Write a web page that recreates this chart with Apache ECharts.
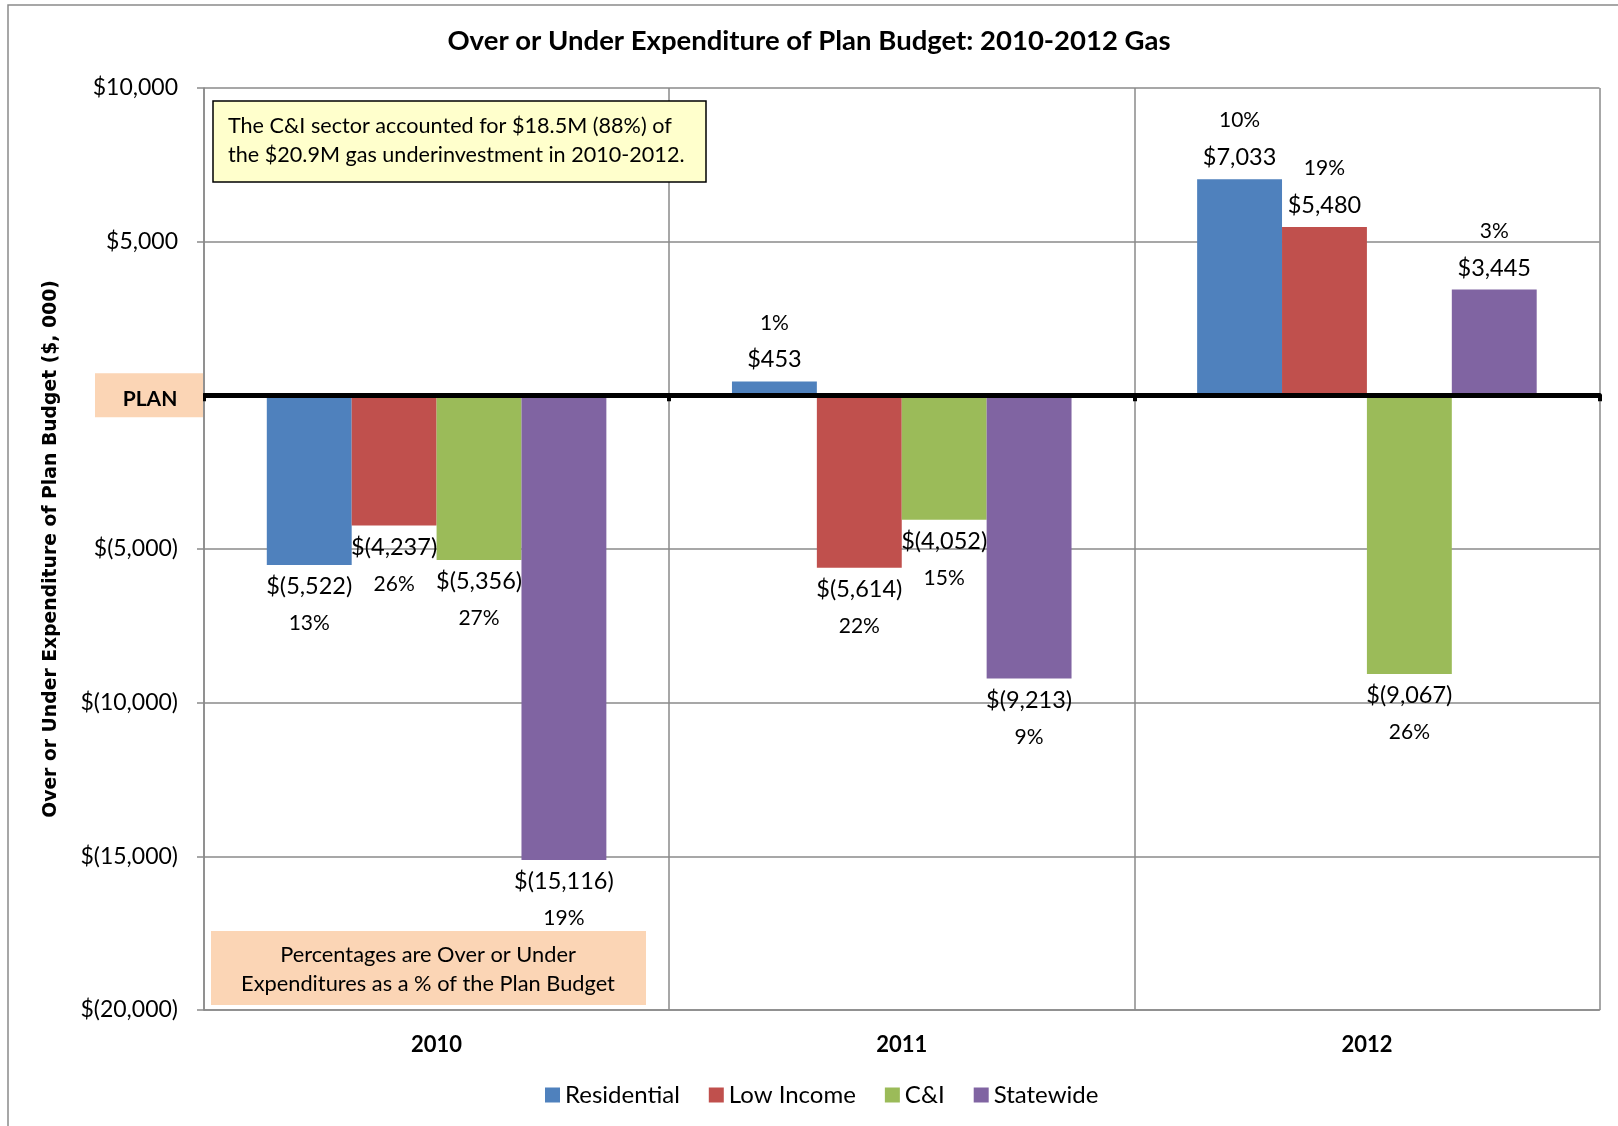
<!DOCTYPE html>
<html><head><meta charset="utf-8">
<script src="https://cdn.jsdelivr.net/npm/echarts@6/dist/echarts.min.js"></script>
<style>html,body{margin:0;padding:0;background:#fff}#c{width:1618px;height:1126px}</style>
</head><body><div id="c"></div>
<script>
// ---- data ----
const years = ['2010', '2011', '2012'];
const seriesNames = ['Residential', 'Low Income', 'C&I', 'Statewide'];
const residential = [-5522, 453, 7033];
const lowIncome = [-4237, -5614, 5480];
const cAndI = [-5356, -4052, -9067];
const statewide = [-15116, -9213, 3445];
const residentialPct = ['13%', '1%', '10%'];
const lowIncomePct = ['26%', '22%', '19%'];
const cAndIPct = ['27%', '15%', '26%'];
const statewidePct = ['19%', '9%', '3%'];
const yMin = -20000, yMax = 10000, yStep = 5000;

const colors = ['#4F81BD', '#C0504D', '#9BBB59', '#8064A2'];
const FONT = 'Lato';

function money(v) {
  const s = Math.abs(v).toLocaleString('en-US');
  return v < 0 ? '$(' + s + ')' : '$' + s;
}

const values = [residential, lowIncome, cAndI, statewide];
const pcts = [residentialPct, lowIncomePct, cAndIPct, statewidePct];

const series = seriesNames.map((name, i) => ({
  name: name,
  type: 'bar',
  xAxisIndex: 0,
  barGap: '0%',
  barCategoryGap: '27%',
  itemStyle: { color: colors[i] },
  data: values[i].map(v => ({ value: v, label: { position: v < 0 ? 'bottom' : 'top' } })),
  label: {
    show: true,
    distance: 3,
    fontFamily: FONT,
    color: '#000',
    formatter: p => {
      const pc = pcts[i][p.dataIndex];
      return p.value < 0 ? '{v|' + money(p.value) + '}\n{p|' + pc + '}' : '{p|' + pc + '}\n{v|' + money(p.value) + '}';
    },
    rich: {
      v: { fontFamily: FONT, fontSize: 23.5, lineHeight: 37, color: '#000' },
      p: { fontFamily: FONT, fontSize: 21, lineHeight: 37, color: '#000' }
    }
  }
}));

const chart = echarts.init(document.getElementById('c'), null, { renderer: 'canvas' });
const option = {
  animation: false,
  backgroundColor: '#fff',
  title: {
    text: 'Over or Under Expenditure of Plan Budget: 2010-2012 Gas',
    left: 'center', top: 22, padding: [5, 5, 5, 29],
    textStyle: { fontFamily: FONT, fontWeight: 'bold', fontSize: 27.5, color: '#000' }
  },
  legend: {
    data: seriesNames,
    left: 540, top: 1078,
    itemWidth: 15, itemHeight: 15, itemGap: 29,
    icon: 'rect',
    textStyle: { fontFamily: FONT, fontSize: 24, color: '#000' }
  },
  grid: { left: 204, right: 18.5, top: 88, bottom: 116, containLabel: false, outerBoundsMode: 'none' },
  xAxis: [{
    type: 'category', data: years, position: 'bottom',
    axisLine: { onZero: false, lineStyle: { color: '#8a8a8a', width: 1.5 } },
    axisTick: { show: false },
    axisLabel: { margin: 24, fontFamily: FONT, fontWeight: 'bold', fontSize: 22, color: '#000' },
    splitLine: { show: true, lineStyle: { color: '#8a8a8a', width: 1.5 } }
  }, {
    type: 'category', data: years, position: 'bottom', z: 10,
    axisLine: { onZero: true, lineStyle: { color: '#000', width: 5 } },
    axisTick: { show: true, length: 6, lineStyle: { color: '#000', width: 4 } },
    axisLabel: { show: false },
    splitLine: { show: false }
  }],
  yAxis: {
    type: 'value', min: yMin, max: yMax, interval: yStep,
    name: 'Over or Under Expenditure of Plan Budget ($, 000)',
    nameLocation: 'middle', nameGap: 143, nameRotate: 90,
    nameTextStyle: { fontFamily: 'DejaVu Sans', fontWeight: 'bold', fontSize: 18.8, color: '#000' },
    axisLine: { show: true, lineStyle: { color: '#8a8a8a', width: 1.5 } },
    axisTick: { show: true, length: 7, lineStyle: { color: '#8a8a8a', width: 1.5 } },
    axisLabel: { margin: 26, fontFamily: FONT, fontSize: 23, color: '#000',
      formatter: v => v === 0 ? '' : money(v) },
    splitLine: { show: true, lineStyle: { color: '#8a8a8a', width: 1.5 } }
  },
  series: series
};
chart.setOption(option);

const zeroY = chart.convertToPixel({ yAxisIndex: 0 }, 0);
chart.setOption({
  graphic: [
    { type: 'rect', z: 0, silent: true, shape: { x: 8, y: 5, width: 1700, height: 1300 },
      style: { fill: 'none', stroke: '#8a8a8a', lineWidth: 1.5 } },
    { type: 'rect', z: 20, shape: { x: 95, y: zeroY - 22, width: 108, height: 44 },
      style: { fill: '#FBD5B5' } },
    { type: 'text', z: 21, x: 150, y: zeroY + 4,
      style: { text: 'PLAN', fontFamily: FONT, fontWeight: 'bold', fontSize: 21, fill: '#000', align: 'center', verticalAlign: 'middle' } },
    { type: 'rect', z: 20, shape: { x: 213, y: 101, width: 493, height: 81 },
      style: { fill: '#FFFFCC', stroke: '#000', lineWidth: 1.5 } },
    { type: 'text', z: 21, x: 228, y: 141,
      style: { text: 'The C&I sector accounted for $18.5M (88%) of\nthe $20.9M gas underinvestment in 2010-2012.',
        fontFamily: FONT, fontSize: 21.6, lineHeight: 29, fill: '#000', align: 'left', verticalAlign: 'middle' } },
    { type: 'rect', z: 20, shape: { x: 211, y: 931, width: 435, height: 74 },
      style: { fill: '#FBD5B5' } },
    { type: 'text', z: 21, x: 428, y: 969,
      style: { text: 'Percentages are Over or Under\nExpenditures as a % of the Plan Budget',
        fontFamily: FONT, fontSize: 21.8, lineHeight: 29, fill: '#000', align: 'center', verticalAlign: 'middle' } }
  ]
});
</script></body></html>
